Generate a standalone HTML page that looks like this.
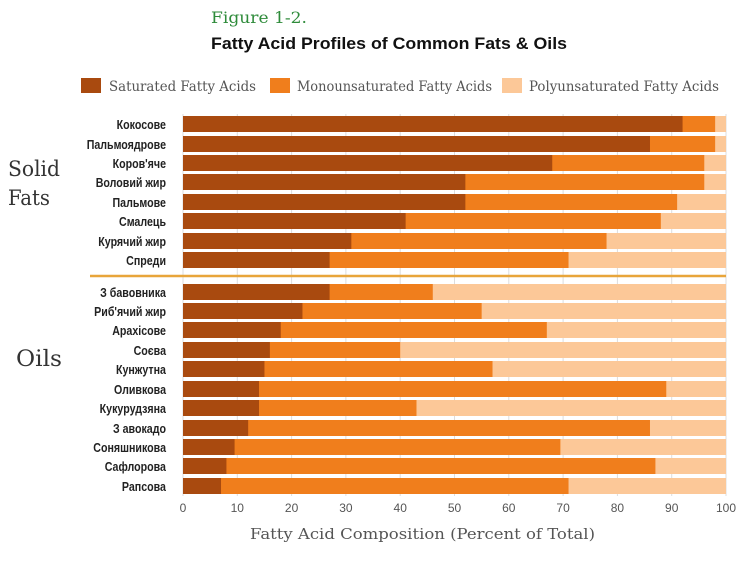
<!DOCTYPE html>
<html><head><meta charset="utf-8"><style>
html,body{margin:0;padding:0;background:#fff;}
svg{display:block;}
</style></head><body>
<svg width="750" height="564" viewBox="0 0 750 564" xmlns="http://www.w3.org/2000/svg">
<text x="211" y="23" font-family="DejaVu Serif, serif" font-size="16" fill="#2e8b3a" textLength="96" lengthAdjust="spacingAndGlyphs">Figure 1-2.</text>
<text x="211" y="49" font-family="Liberation Sans, sans-serif" font-size="17" font-weight="bold" fill="#111" textLength="356" lengthAdjust="spacingAndGlyphs">Fatty Acid Profiles of Common Fats &amp; Oils</text>
<rect x="81" y="78" width="20" height="15" fill="#a94a0f"/>
<text x="109" y="91" font-family="DejaVu Serif, serif" font-size="14" fill="#555" textLength="147" lengthAdjust="spacingAndGlyphs">Saturated Fatty Acids</text>
<rect x="270" y="78" width="20" height="15" fill="#f07e1c"/>
<text x="297" y="91" font-family="DejaVu Serif, serif" font-size="14" fill="#555" textLength="195" lengthAdjust="spacingAndGlyphs">Monounsaturated Fatty Acids</text>
<rect x="502" y="78" width="20" height="15" fill="#fcc898"/>
<text x="529" y="91" font-family="DejaVu Serif, serif" font-size="14" fill="#555" textLength="190" lengthAdjust="spacingAndGlyphs">Polyunsaturated Fatty Acids</text>
<g id="grid" stroke="#ddd" stroke-width="1"></g>
<g id="bars"></g>
<g id="labs" transform="scale(0.82,1)"></g>
<line x1="90" y1="276" x2="726" y2="276" stroke="#e8a53a" stroke-width="2.5"/>
<text x="8" y="176" font-family="DejaVu Serif, serif" font-size="21" fill="#333" textLength="52" lengthAdjust="spacingAndGlyphs">Solid</text>
<text x="8" y="205" font-family="DejaVu Serif, serif" font-size="21" fill="#333" textLength="42" lengthAdjust="spacingAndGlyphs">Fats</text>
<text x="16" y="366" font-family="DejaVu Serif, serif" font-size="22" fill="#333" textLength="46" lengthAdjust="spacingAndGlyphs">Oils</text>
<g font-family="Liberation Sans, sans-serif" font-size="12" fill="#555" text-anchor="middle">
<text x="183" y="512">0</text><text x="237.3" y="512">10</text><text x="291.6" y="512">20</text><text x="345.9" y="512">30</text><text x="400.2" y="512">40</text><text x="454.5" y="512">50</text><text x="508.8" y="512">60</text><text x="563.1" y="512">70</text><text x="617.4" y="512">80</text><text x="671.7" y="512">90</text><text x="726" y="512">100</text>
</g>
<text x="250" y="539" font-family="DejaVu Serif, serif" font-size="15" fill="#555" textLength="345" lengthAdjust="spacingAndGlyphs">Fatty Acid Composition (Percent of Total)</text>
<script>
var d=[["Кокосове",124,92,98],["Пальмоядрове",144,86,98],["Коров'яче",163,68,96],["Воловий жир",182,52,96],["Пальмове",202,52,91],["Смалець",221,41,88],["Курячий жир",241,31,78],["Спреди",260,27,71],
["З бавовника",292,27,46],["Риб'ячий жир",311,22,55],["Арахісове",330,18,67],["Соєва",350,16,40],["Кунжутна",369,15,57],["Оливкова",389,14,89],["Кукурудзяна",408,14,43],["З авокадо",428,12,86],["Соняшникова",447,9.5,69.5],["Сафлорова",466,8,87],["Рапсова",486,7,71]];
var ns="http://www.w3.org/2000/svg",g=document.getElementById("bars"),gr=document.getElementById("grid"),lb=document.getElementById("labs");
function el(p,t,a,tx){var e=document.createElementNS(ns,t);for(var k in a)e.setAttribute(k,a[k]);if(tx)e.textContent=tx;p.appendChild(e);return e;}
for(var i=0;i<=10;i++){var x=183+i*54.3;el(gr,"line",{x1:x,y1:114,x2:x,y2:496});}
var s=5.43;
d.forEach(function(r){var y=r[1]-8,h=16;
el(g,"rect",{x:183,y:y,width:543,height:h,fill:"#fcc898"});
el(g,"rect",{x:183,y:y,width:r[3]*s,height:h,fill:"#f07e1c"});
el(g,"rect",{x:183,y:y,width:r[2]*s,height:h,fill:"#a94a0f"});
el(lb,"text",{x:166/0.82,y:r[1]+5,"text-anchor":"end","font-family":"Liberation Sans, sans-serif","font-size":"13","font-weight":"bold",fill:"#222"},r[0]);
});
</script>
</svg>
</body></html>
